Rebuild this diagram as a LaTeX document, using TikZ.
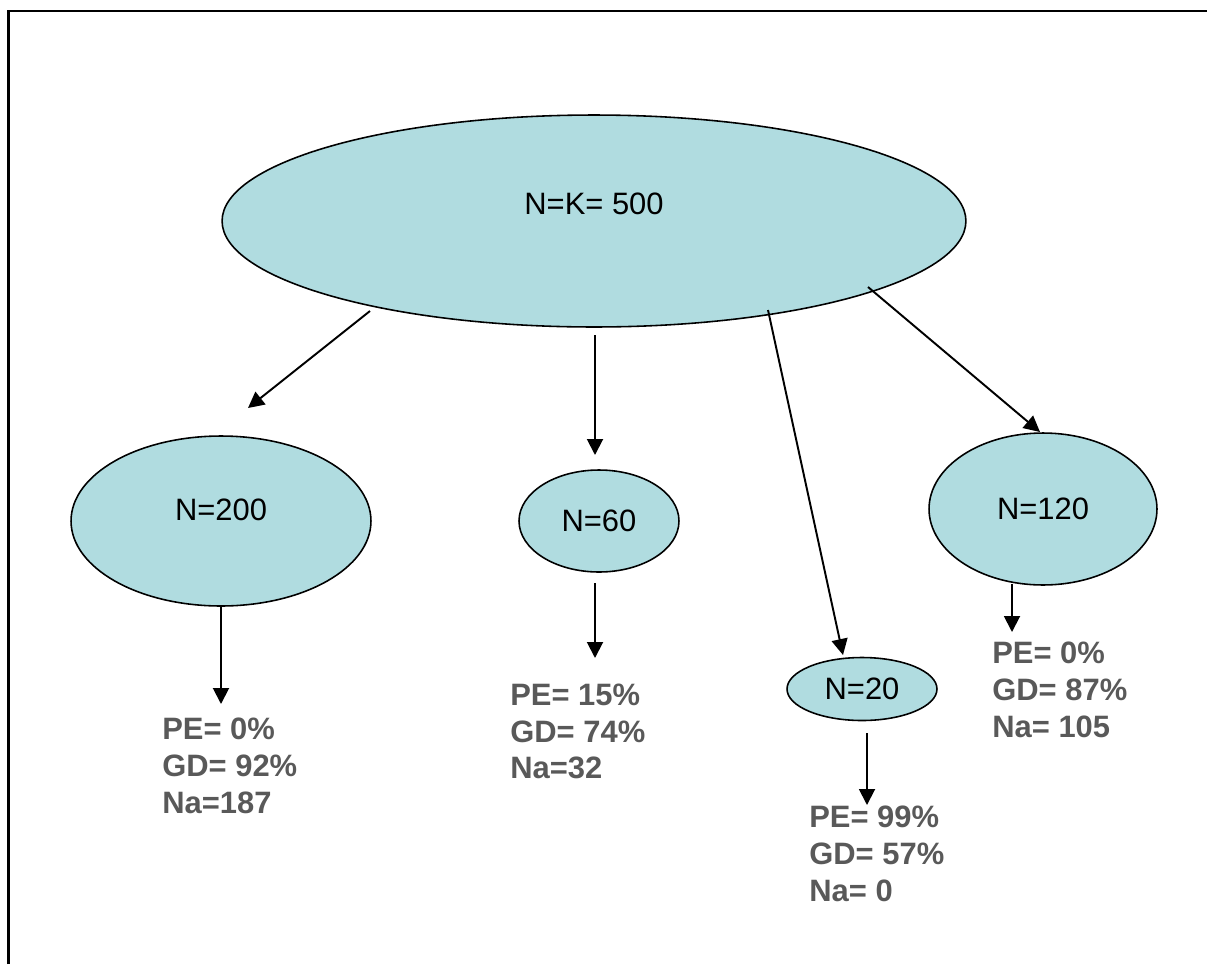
\documentclass[tikz,border=0pt]{standalone}
\usepackage{fontspec}
\setmainfont{Liberation Sans}
\usetikzlibrary{shapes.geometric,arrows.meta}
\definecolor{groupfill}{HTML}{B0DCE0}
\definecolor{statgray}{HTML}{595959}
\begin{document}
\begin{tikzpicture}[x=0.02cm,y=-0.02cm]
      \tikzset{group/.style={ellipse,draw,line width=0.9pt,fill=groupfill,inner sep=0pt,font=\fontsize{17.6}{21}\selectfont},
        stats/.style={anchor=north west,inner sep=0pt,align=left,text=statgray,font=\fontsize{17.6}{20.8}\selectfont\bfseries},
        arr/.style={-{Triangle[length=0.32cm,width=0.32cm]},line width=1.1pt}}
      \useasboundingbox (0,0) rectangle (1207,964);
      \draw[line width=1.5pt] (8.7,964) |- (1207,11);
      \node[group,minimum width=14.88cm,minimum height=4.24cm,text depth=0.68cm] (root) at (594,221) {N=K= 500};
      \node[group,minimum width=6cm,minimum height=3.4cm,text depth=0.44cm] (n200) at (221,521) {N=200};
      \node[group,minimum width=3.2cm,minimum height=2.04cm] (n60) at (599,521) {N=60};
      \node[group,minimum width=3cm,minimum height=1.26cm] (n20) at (862,689) {N=20};
      \node[group,minimum width=4.56cm,minimum height=3.04cm] (n120) at (1043,509) {N=120};
      \node[stats] (s200) at (162,718) {PE= 0\%\\GD= 92\%\\Na=187};
      \node[stats] (s60) at (510,684) {PE= 15\%\\GD= 74\%\\Na=32};
      \node[stats] (s20) at (809,806) {PE= 99\%\\GD= 57\%\\Na= 0};
      \node[stats] (s120) at (992,642) {PE= 0\%\\GD= 87\%\\Na= 105};
      \draw[arr] ([shift={(-224,90)}]root.center) -- ([shift={(27,-113)}]n200.center);
      \draw[arr] ([shift={(1,114)}]root.center) -- ([shift={(-4,-66)}]n60.center);
      \draw[arr] ([shift={(174,89)}]root.center) -- ([shift={(-19,-34)}]n20.center);
      \draw[arr] ([shift={(274,66)}]root.center) -- ([shift={(-3,-77)}]n120.center);
      \draw[arr] (n200.south) -- ([shift={(59,-14)}]s200.north west);
      \draw[arr] ([shift={(-4,62)}]n60.center) -- ([shift={(85,-26)}]s60.north west);
      \draw[arr] ([shift={(5,44)}]n20.center) -- ([shift={(58,-1)}]s20.north west);
      \draw[arr] ([shift={(-31,75)}]n120.center) -- ([shift={(20,-10)}]s120.north west);
    \end{tikzpicture}
\end{document}
